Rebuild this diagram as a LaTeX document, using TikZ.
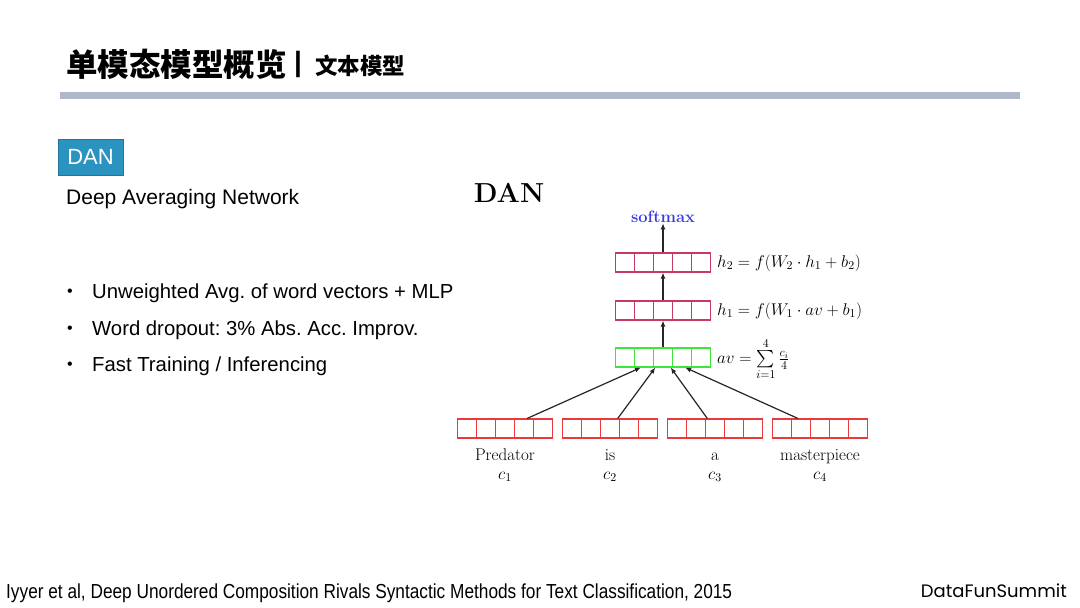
\documentclass[tikz,border=0pt]{standalone}
\usepackage{fix-cm}
\usepackage{amsmath}
\usepackage{fontspec}
\usetikzlibrary{calc,arrows.meta}

\newfontfamily\cjk{Noto Sans CJK SC}
\newfontfamily\sans{Liberation Sans}
\newfontfamily\narrow[FakeStretch=0.85]{Liberation Sans}
\newfontfamily\brandfont{Poppins}

\definecolor{barcol}{HTML}{ADB9CA}
\definecolor{dancol}{HTML}{2A93C0}
\definecolor{hcol}{HTML}{C83A62}
\definecolor{avcol}{HTML}{3DE63D}
\definecolor{wcol}{HTML}{E83A3A}
\definecolor{smcol}{HTML}{3A3AE0}

\tikzset{
  vec/.style={draw, minimum width=95pt, minimum height=19pt, inner sep=0pt, line width=1.1pt},
  txt/.style={font=\sans\fontsize{20.3}{24}\selectfont, anchor=west},
  dia/.style={font=\fontsize{17}{20}\selectfont},
}

% vertical dividers inside a vector box
\newcommand{\cells}[2]{%
  \foreach \k in {1,...,4}
    \draw[#2, line width=1.1pt] ($(#1.north west)!\k/5!(#1.north east)$) -- ($(#1.south west)!\k/5!(#1.south east)$);
}

\frenchspacing
\begin{document}
\begin{tikzpicture}[x=1pt,y=-1pt,inner sep=1pt,>={Latex[length=6pt,width=5pt]}]
\useasboundingbox[fill=white] (0,0) rectangle (1080,608);

\node[anchor=west] (title) at (65,64) {\cjk\bfseries\fontsize{31.5}{36}\selectfont 单模态模型概览};
\node[anchor=west] (sep) at (293,64) {\sans\bfseries\fontsize{28}{34}\selectfont |};
\node[anchor=west] (sub) at (314,66) {\cjk\bfseries\fontsize{22.5}{27}\selectfont 文本模型};
\fill[barcol] (60,92) rectangle (1020,99);

\node[fill=dancol, draw=dancol!80!black, minimum width=65pt, minimum height=36pt, text=white, font=\sans\fontsize{22}{26}\selectfont] (tag) at (90.5,157) {DAN};
\node[txt, font=\sans\fontsize{21}{25}\selectfont] (full) at (65,199) {Deep Averaging Network};

\node (d1) at (70,293) {\sans\fontsize{16}{20}\selectfont\textbullet};
\node (d2) at (70,330) {\sans\fontsize{16}{20}\selectfont\textbullet};
\node (d3) at (70,366) {\sans\fontsize{16}{20}\selectfont\textbullet};
\node[txt] (b1) at (91,293) {Unweighted Avg. of word vectors + MLP};
\node[txt] (b2) at (91,330) {Word dropout: 3\% Abs. Acc. Improv.};
\node[txt] (b3) at (91,366) {Fast Training / Inferencing};

\node[anchor=west, font=\narrow\fontsize{20.3}{24}\selectfont] (ref) at (5,593) {Iyyer et al, Deep Unordered Composition Rivals Syntactic Methods for Text Classification, 2015};
\node[anchor=east, font=\brandfont\fontsize{18}{22}\selectfont] (brand) at (1068,591) {DataFunSummit};

% network
\node[font=\bfseries\fontsize{27.5}{32}\selectfont] (dan) at (509,193) {DAN};
\node[dia, anchor=base, text=smcol, font=\fontsize{16.5}{20}\selectfont] (sm) at (663,222) {\bfseries softmax};

\node[vec, draw=hcol] (h2) at (663,262.5) {};
\node[vec, draw=hcol] (h1) at (663,310.5) {};
\node[vec, draw=avcol] (av) at (663,357.5) {};
\cells{h2}{hcol}
\cells{h1}{hcol}
\cells{av}{avcol}

\node[dia, anchor=west] (lh2) at (716,263) {$h_2 = f(W_2\cdot h_1 + b_2)$};
\node[dia, anchor=west] (lh1) at (716,311) {$h_1 = f(W_1\cdot av + b_1)$};
\node[dia, anchor=west, inner sep=0pt] (lav) at (717,359) {$av = \sum\limits_{i=1}^{4}\frac{c_i}{4}$};

\node[vec, draw=wcol] (w1) at (505,428.5) {};
\node[vec, draw=wcol] (w2) at (610,428.5) {};
\node[vec, draw=wcol] (w3) at (715,428.5) {};
\node[vec, draw=wcol] (w4) at (820,428.5) {};
\cells{w1}{wcol}
\cells{w2}{wcol}
\cells{w3}{wcol}
\cells{w4}{wcol}

\node[dia, anchor=base] (t1) at (505,460) {Predator};
\node[dia, anchor=base] (t2) at (610,460) {is};
\node[dia, anchor=base] (t3) at (715,460) {a};
\node[dia, anchor=base] (t4) at (820,460) {masterpiece};
\node[dia, anchor=base] (c1) at (505,479) {$c_1$};
\node[dia, anchor=base] (c2) at (610,479) {$c_2$};
\node[dia, anchor=base] (c3) at (715,479) {$c_3$};
\node[dia, anchor=base] (c4) at (820,479) {$c_4$};

\draw[->, line width=1.2pt, black!85] (av) -- (h1);
\draw[->, line width=1.2pt, black!85] (h1) -- (h2);
\draw[->, line width=1.2pt, black!85] (h2) -- (sm);

\draw[->, line width=1.2pt, black!85] ($(w1.north west)!0.73!(w1.north east)$) -- ($(av.south west)!0.27!(av.south east)$);
\draw[->, line width=1.2pt, black!85] ($(w2.north west)!0.58!(w2.north east)$) -- ($(av.south west)!0.42!(av.south east)$);
\draw[->, line width=1.2pt, black!85] ($(w3.north west)!0.42!(w3.north east)$) -- ($(av.south west)!0.58!(av.south east)$);
\draw[->, line width=1.2pt, black!85] ($(w4.north west)!0.27!(w4.north east)$) -- ($(av.south west)!0.73!(av.south east)$);

\end{tikzpicture}
\end{document}
